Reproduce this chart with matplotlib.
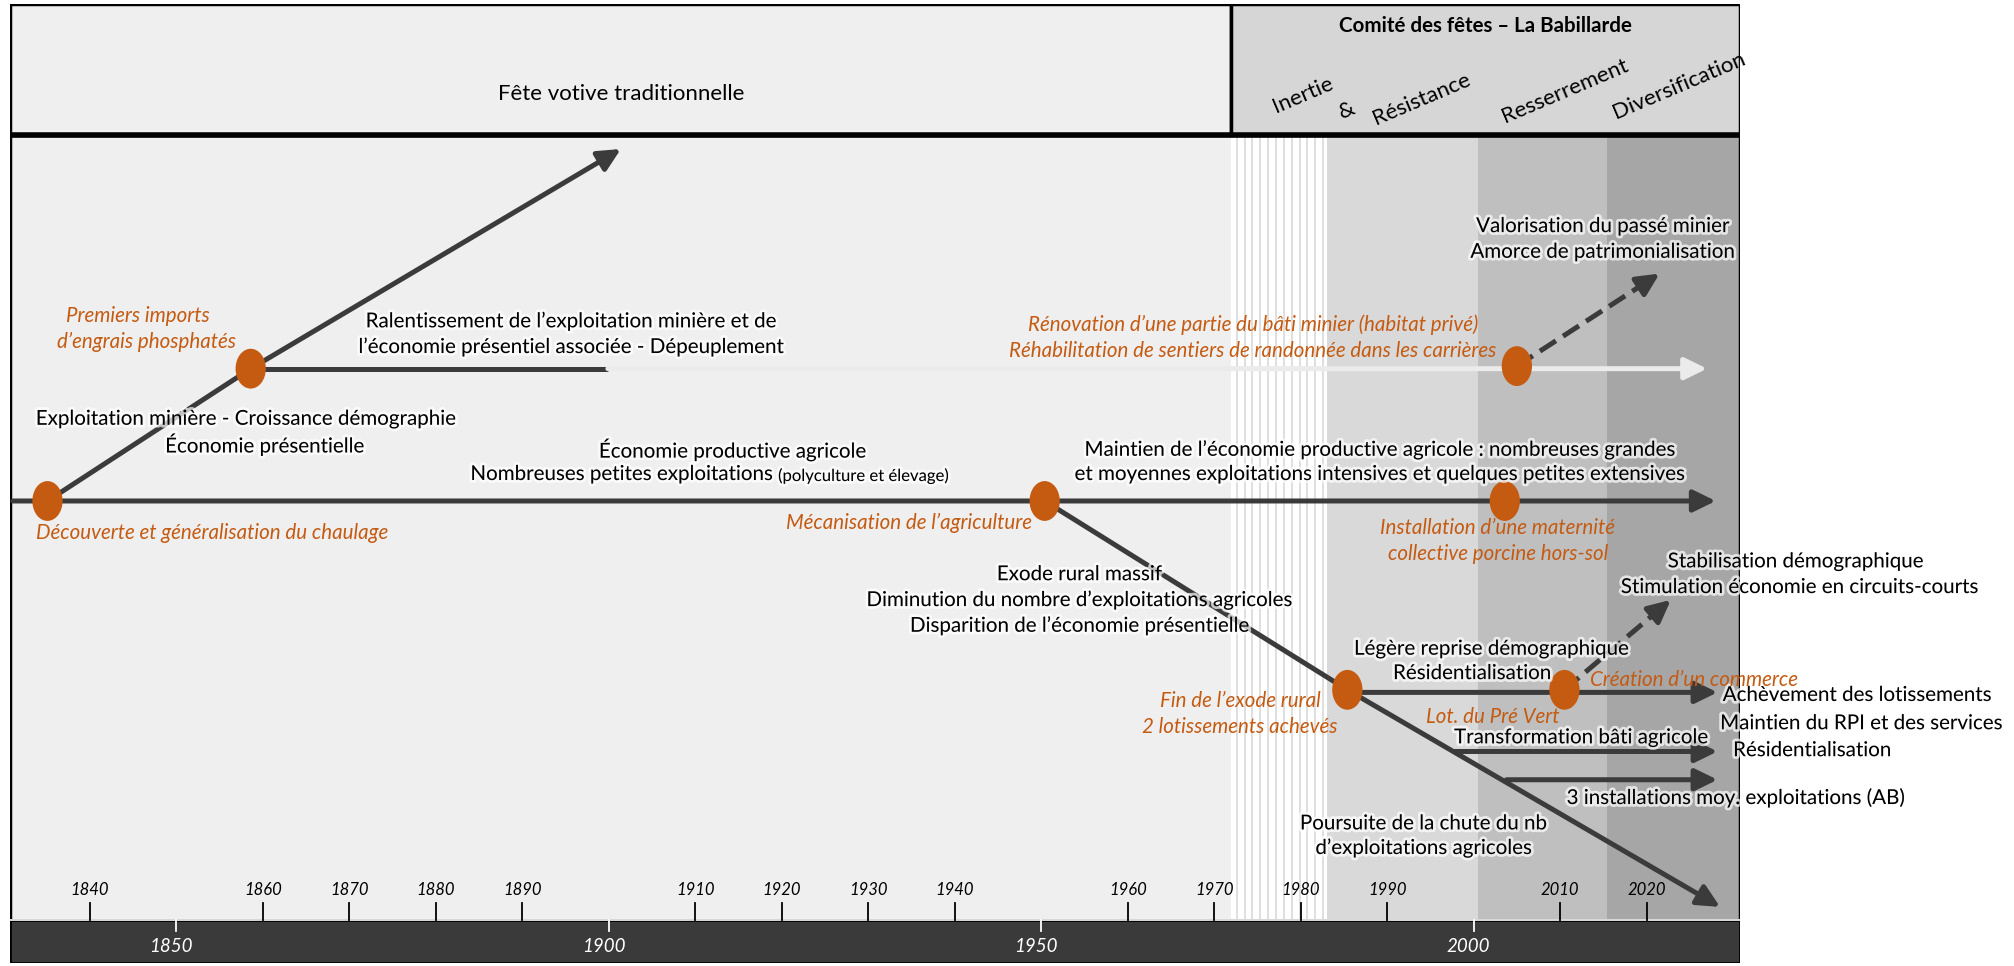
import numpy as np
import matplotlib
matplotlib.use("Agg")
import matplotlib.pyplot as plt
import matplotlib.patheffects as pe
from matplotlib.patches import Rectangle, Ellipse

plt.rcParams["font.family"] = ["Lato", "DejaVu Sans"]

# ── Données de la frise ─────────────────────────────────────────
annee_debut = 1830.8
annee_fin = 2030.8
annee_comite = 1972            # début du Comité des fêtes

# zones de fond (périodes du comité)
zones_debut = [1972, 1983, 2000.5, 2015.4]
zones_fin = [1983, 2000.5, 2015.4, 2030.8]

annees_decennies = [1840, 1860, 1870, 1880, 1890, 1910, 1920, 1930, 1940,
                    1960, 1970, 1980, 1990, 2010, 2020]
annees_majeures = [1850, 1900, 1950, 2000]

# événements (année, niveau vertical de la branche)
noeuds_annee = [1835.1, 1858.6, 1950.4, 1985.4, 2003.6, 2005.0, 2010.5]
noeuds_niveau = [390, 287, 390, 537, 390, 285, 537]

# segments simples (x0, y0, x1, y1)
segments = [
    (1835.1, 390, 1858.6, 287),
    (1858.6, 287, 1899.9, 287),
    (1950.4, 390, 1985.4, 537),
]
# branches fléchées
fleches = [
    (1831.1, 390, 2028.0, 390),
    (1858.6, 287, 1901.4, 116),
    (1985.4, 537, 2028.5, 706),
    (1985.4, 539, 2028.2, 539),
    (1997.8, 585, 2028.2, 585),
    (2003.8, 607, 2028.2, 607),
]
fleche_claire = (1899.9, 287, 2027.0, 287)
fleches_tiretees = [
    (2005.0, 285, 2021.5, 213),
    (2010.5, 537, 2022.8, 467),
]

bandeau_gauche = "Fête votive traditionnelle"
bandeau_droite = "Comité des fêtes – La Babillarde"
phases = [("Inertie", 1980.3, 74), ("&", 1985.4, 86), ("Résistance", 1994.0, 77),
          ("Resserrement", 2010.6, 71), ("Diversification", 2023.8, 67)]

# (texte, année, niveau, alignement)
textes_noirs = [
    ("Ralentissement de l’exploitation minière et de", 1895.6, 250, "center"),
    ("l’économie présentiel associée - Dépeuplement", 1895.6, 270, "center"),
    ("Exploitation minière - Croissance démographie", 1858.0, 326, "center"),
    ("Économie présentielle", 1860.2, 346, "center"),
    ("Économie productive agricole", 1914.3, 350, "center"),
    ("Valorisation du passé minier", 2014.9, 176, "center"),
    ("Amorce de patrimonialisation", 2014.9, 196, "center"),
    ("Maintien de l’économie productive agricole : nombreuses grandes", 1989.1, 350, "center"),
    ("et moyennes exploitations intensives et quelques petites extensives", 1989.1, 369, "center"),
    ("Stabilisation démographique", 2037.2, 437, "center"),
    ("Stimulation économie en circuits-courts", 2037.7, 457, "center"),
    ("Exode rural massif", 1954.4, 447, "center"),
    ("Diminution du nombre d’exploitations agricoles", 1954.4, 467, "center"),
    ("Disparition de l’économie présentielle", 1954.4, 487, "center"),
    ("Légère reprise démographique", 2002.0, 505, "center"),
    ("Résidentialisation", 1999.8, 524, "center"),
    ("Transformation bâti agricole", 2012.4, 574, "center"),
    ("Achèvement des lotissements", 2028.8, 541, "left"),
    ("Maintien du RPI et des services", 2028.5, 563, "left"),
    ("Résidentialisation", 2030.0, 584, "left"),
    ("3 installations moy. exploitations (AB)", 2030.3, 621, "center"),
    ("Poursuite de la chute du nb", 1994.2, 641, "center"),
    ("d’exploitations agricoles", 1994.2, 660, "center"),
]
textes_oranges = [
    ("Premiers imports", 1845.6, 246, "center"),
    ("d’engrais phosphatés", 1846.5, 266, "center"),
    ("Découverte et généralisation du chaulage", 1833.8, 415, "left"),
    ("Mécanisation de l’agriculture", 1934.7, 407, "center"),
    ("Rénovation d’une partie du bâti minier (habitat privé)", 1974.5, 253, "center"),
    ("Réhabilitation de sentiers de randonnée dans les carrières", 1974.5, 273, "center"),
    ("Installation d’une maternité", 2002.8, 411, "center"),
    ("collective porcine hors-sol", 2002.8, 431, "center"),
    ("Création d’un commerce", 2013.5, 529, "left"),
    ("Fin de l’exode rural", 1973.0, 546, "center"),
    ("2 lotissements achevés", 1973.0, 566, "center"),
    ("Lot. du Pré Vert", 2002.2, 558, "center"),
]

# ── Styles ──────────────────────────────────────────────────────
FONCE = "#3b3b3b"
ORANGE = "#c55a11"
COULEURS_ZONES = ["#ffffff", "#d9d9d9", "#bfbfbf", "#a6a6a6"]
LW = 3.6
FS = 14.8
halo = [pe.withStroke(linewidth=4, foreground="white", alpha=0.7)]

fig = plt.figure(figsize=(20.15, 9.66), dpi=100, facecolor="white")
ax = fig.add_axes([8 / 1568, 2 / 752, 1346 / 1568, 747 / 752])
ax.set_xlim(annee_debut, annee_fin)
ax.set_ylim(750, 3)
ax.axis("off")

# ── Fonds ───────────────────────────────────────────────────────
ax.add_patch(Rectangle((annee_debut, 105), annee_fin - annee_debut, 611,
                       facecolor="#efefef", edgecolor="none", zorder=0))
for x0, x1, c in zip(zones_debut, zones_fin, COULEURS_ZONES):
    ax.add_patch(Rectangle((x0, 105), x1 - x0, 611, facecolor=c,
                           edgecolor="none", zorder=0))
# rayures de la période "Inertie"
for xs in np.linspace(zones_debut[0] + 0.6, zones_fin[0] - 0.4, 12):
    ax.plot([xs, xs], [105, 716], color="#d6d6d6", lw=1.1, zorder=0.5)

# ── Bandeau supérieur ───────────────────────────────────────────
ax.add_patch(Rectangle((annee_debut, 3), annee_comite - annee_debut, 102,
                       facecolor="#efefef", edgecolor="black", lw=2.5, zorder=1))
ax.add_patch(Rectangle((annee_comite, 3), annee_fin - annee_comite, 102,
                       facecolor="#d6d6d6", edgecolor="black", lw=2.5, zorder=1))
ax.plot([annee_debut, annee_fin], [105, 105], color="black", lw=4, zorder=1.5)
ax.text((annee_debut + annee_comite) / 2, 73, bandeau_gauche, ha="center",
        va="center", fontsize=16, zorder=4)
ax.text((annee_comite + annee_fin) / 2, 20, bandeau_droite, ha="center",
        va="center", fontsize=FS, fontweight="bold", zorder=4)
for txt, x, y in phases:
    ax.text(x, y, txt, ha="center", va="center", rotation=23,
            rotation_mode="anchor", fontsize=16, zorder=4)

# bords du panneau principal
ax.plot([annee_debut, annee_debut], [105, 716], color="black", lw=2.5, zorder=1.5)
ax.plot([annee_fin, annee_fin], [105, 716], color="black", lw=2.5, zorder=1.5)

# ── Axe du temps en bas ─────────────────────────────────────────
ax.add_patch(Rectangle((annee_debut, 716), annee_fin - annee_debut, 34,
                       facecolor="#3a3a3a", edgecolor="black", lw=2, zorder=1))
ax.plot([annee_debut, annee_fin], [716, 716], color="white", lw=1.2, zorder=1.6)
for a in annees_decennies:
    ax.plot([a, a], [703, 716], color="black", lw=1.3, zorder=2)
    ax.text(a, 693, str(a), ha="center", va="center", fontsize=12,
            style="italic", zorder=4)
for a in annees_majeures:
    ax.plot([a, a], [716, 725], color="white", lw=1.3, zorder=2)
    ax.text(a - 0.6, 737, str(a), ha="center", va="center", fontsize=13.5,
            style="italic", color="white", zorder=4)

# ── Branches ────────────────────────────────────────────────────
for x0, y0, x1, y1 in segments:
    ax.plot([x0, x1], [y0, y1], color=FONCE, lw=LW, solid_capstyle="butt", zorder=2)

def fleche(x0, y0, x1, y1, couleur, style="-"):
    if style == "-":
        ax.annotate("", xy=(x1, y1), xytext=(x0, y0), zorder=2,
                    arrowprops=dict(arrowstyle="-|>,head_length=0.45,head_width=0.22",
                                    mutation_scale=30, lw=LW, color=couleur,
                                    shrinkA=0, shrinkB=0))
    else:
        xm = x1 - 0.12 * (x1 - x0)
        ym = y1 - 0.12 * (y1 - y0)
        ax.plot([x0, xm], [y0, ym], color=couleur, lw=LW, ls=(0, (3.8, 1.7)),
                zorder=2)
        ax.annotate("", xy=(x1, y1), xytext=(xm, ym), zorder=2,
                    arrowprops=dict(arrowstyle="-|>,head_length=0.45,head_width=0.22",
                                    mutation_scale=30, lw=LW, color=couleur,
                                    shrinkA=0, shrinkB=0))

fleche(*fleche_claire, "#ebebeb")
for f in fleches:
    fleche(*f, FONCE)
for f in fleches_tiretees:
    fleche(*f, FONCE, style="--")

for x, y in zip(noeuds_annee, noeuds_niveau):
    ax.add_patch(Ellipse((x, y), 3.5, 31, facecolor=ORANGE, edgecolor="none",
                         zorder=3))

# ── Textes ──────────────────────────────────────────────────────
for txt, x, y, ha in textes_noirs:
    ax.text(x, y, txt, ha=ha, va="center", fontsize=FS, color="black",
            path_effects=halo, zorder=4)
for txt, x, y, ha in textes_oranges:
    ax.text(x, y, txt, ha=ha, va="center", fontsize=FS, color=ORANGE,
            style="italic", zorder=4)

t_main = ax.text(1884.0, 369, "Nombreuses petites exploitations", ha="left",
                 va="center", fontsize=FS, path_effects=halo, zorder=4)
ax.annotate("(polyculture et élevage)", xy=(1, 0), xycoords=t_main,
            xytext=(4, 0), textcoords="offset points", ha="left", va="bottom",
            fontsize=12, path_effects=halo, zorder=4)

fig.savefig("out.png", dpi=100, facecolor="white")
